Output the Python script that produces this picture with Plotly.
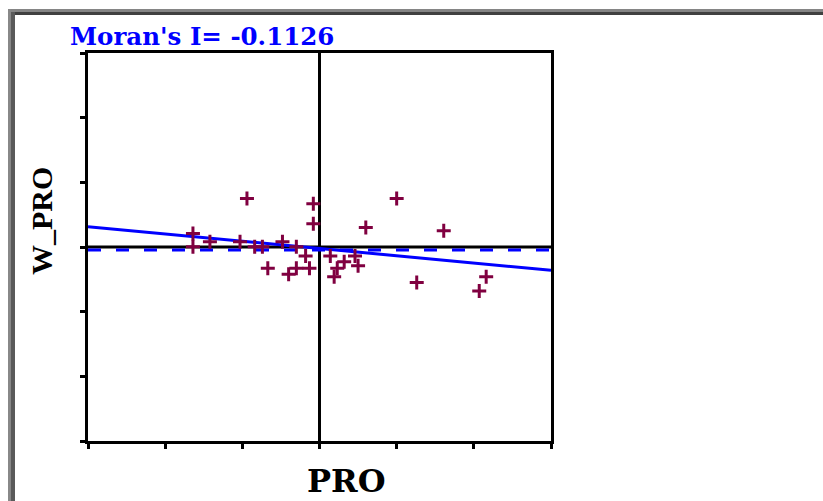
import plotly.graph_objects as go

# Data (standardized PRO vs spatially lagged W_PRO)
pro = [-1.64, -1.64, -1.42, -1.03, -0.94, -0.84, -0.74, -0.67, -0.48, -0.40,
       -0.30, -0.30, -0.18, -0.13, -0.08, -0.08, 0.14, 0.19, 0.23, 0.32,
       0.46, 0.50, 0.60, 1.00, 1.26, 1.61, 2.07, 2.16]
w_pro = [0.21, 0.005, 0.08, 0.08, 0.75, 0.005, 0.005, -0.33, 0.08, -0.42,
         0.005, -0.33, -0.14, -0.33, 0.67, 0.36, -0.14, -0.46, -0.33, -0.23,
         -0.14, -0.29, 0.30, 0.75, -0.55, 0.25, -0.68, -0.46]
morans_i = -0.1126
intercept = -0.023
mean_line_y = -0.046
axis_range = [-3, 3]
tick_vals = [-3, -2, -1, 0, 1, 2, 3]

W, H = 823, 501
L, R, T, B = 88, 272, 53, 60
pw, ph = W - L - R, H - T - B


def px(x):
    return (x - L) / pw


def py(y):
    return (H - B - y) / ph


fig = go.Figure()

# dashed mean line
fig.add_trace(go.Scatter(x=axis_range, y=[mean_line_y, mean_line_y], mode="lines",
                         line=dict(color="#0000ff", width=3, dash="13px,15px"),
                         hoverinfo="skip", showlegend=False))
# regression line
fig.add_trace(go.Scatter(x=axis_range,
                         y=[intercept + morans_i * v for v in axis_range],
                         mode="lines", line=dict(color="#0000ff", width=3),
                         hoverinfo="skip", showlegend=False))
# points
fig.add_trace(go.Scatter(x=pro, y=w_pro, mode="markers",
                         marker=dict(symbol="cross-thin", size=10,
                                     line=dict(color="#800040", width=3)),
                         showlegend=False))

axis_common = dict(range=axis_range, tickvals=tick_vals, showticklabels=False,
                   showgrid=False, zeroline=False, showline=True, mirror=True,
                   linecolor="black", linewidth=3, ticks="outside", ticklen=5,
                   tickwidth=3, tickcolor="black")

fig.update_xaxes(**axis_common)
fig.update_yaxes(**axis_common)

shapes = [
    # zero lines
    dict(type="line", xref="x", yref="y", x0=0, x1=0, y0=-3, y1=3,
         line=dict(color="black", width=3), layer="below"),
    dict(type="line", xref="x", yref="y", x0=-3, x1=3, y0=0, y1=0,
         line=dict(color="black", width=3), layer="below"),
    # outer window frame
    dict(type="rect", xref="paper", yref="paper", x0=px(8), x1=px(823), y0=py(12), y1=py(9),
         fillcolor="#858585", line=dict(width=0)),
    dict(type="rect", xref="paper", yref="paper", x0=px(8), x1=px(823), y0=py(15), y1=py(12),
         fillcolor="#404040", line=dict(width=0)),
    dict(type="rect", xref="paper", yref="paper", x0=px(8), x1=px(11), y0=py(501), y1=py(9),
         fillcolor="#888888", line=dict(width=0)),
    dict(type="rect", xref="paper", yref="paper", x0=px(11), x1=px(15), y0=py(501), y1=py(12),
         fillcolor="#5a5a5a", line=dict(width=0)),
]

annotations = [
    dict(text="<b>PRO</b>", xref="paper", yref="paper", x=px(346), y=py(481),
         xanchor="center", yanchor="middle", showarrow=False,
         font=dict(family="DejaVu Serif", size=32, color="black")),
    dict(text="<b>W_PRO</b>", xref="paper", yref="paper", x=px(41), y=py(221),
         xanchor="center", yanchor="middle", showarrow=False, textangle=-90,
         font=dict(family="Liberation Serif", size=30, color="black")),
]

fig.update_layout(
    width=W, height=H,
    margin=dict(l=L, r=R, t=T, b=B, autoexpand=False),
    paper_bgcolor="white", plot_bgcolor="white",
    shapes=shapes, annotations=annotations,
    title=dict(text="<b>Moran's I= -0.1126</b>", xref="container", yref="container",
               x=70 / W, xanchor="left", y=1 - 36 / H, yanchor="middle",
               font=dict(family="DejaVu Serif", size=24.5, color="#0000ff")),
)

fig.write_html("out.html")
